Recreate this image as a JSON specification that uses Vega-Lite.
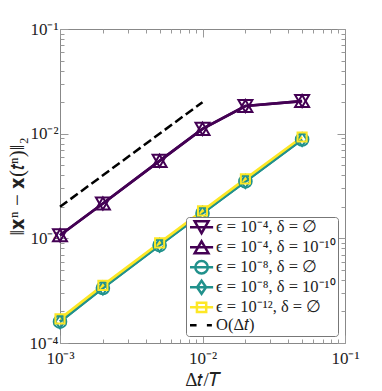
{
  "$schema": "https://vega.github.io/schema/vega-lite/v6.json",
  "width": 285,
  "height": 314,
  "autosize": {"type": "none"},
  "padding": {"left": 60, "top": 29, "right": 37, "bottom": 48},
  "background": "white",
  "config": {
    "view": {"stroke": "#888", "strokeWidth": 1},
    "axis": {"grid": false, "domain": false, "labelFlush": false, "labelOverlap": false, "tickColor": "#999", "tickWidth": 1, "labelFont": "Liberation Serif", "labelFontSize": 17, "labelColor": "#222", "titleFont": "Liberation Serif", "titleFontSize": 19, "titleFontWeight": "normal", "titleColor": "#222"},
    "legend": {"orient": "bottom-right", "offset": 7, "fillColor": "white", "strokeColor": "#777", "padding": 2, "cornerRadius": 3, "labelFont": "Liberation Serif", "labelFontSize": 16.5, "labelColor": "#222", "symbolStrokeWidth": 2.5, "symbolSize": 156.25, "rowPadding": -11, "labelOffset": 11.5}
  },
  "datasets": {
    "ref": [{"dt": 0.001, "err": 0.002}, {"dt": 0.01, "err": 0.02}],
    "main": [
      {"series": "ϵ = 10⁻⁴, δ = ∅", "dt": 0.001, "err": 0.00107},
      {"series": "ϵ = 10⁻⁴, δ = ∅", "dt": 0.002, "err": 0.00215},
      {"series": "ϵ = 10⁻⁴, δ = ∅", "dt": 0.005, "err": 0.0055},
      {"series": "ϵ = 10⁻⁴, δ = ∅", "dt": 0.01, "err": 0.0111},
      {"series": "ϵ = 10⁻⁴, δ = ∅", "dt": 0.02, "err": 0.0184},
      {"series": "ϵ = 10⁻⁴, δ = ∅", "dt": 0.05, "err": 0.0205},
      {"series": "ϵ = 10⁻⁴, δ = 10⁻¹⁰", "dt": 0.001, "err": 0.00107},
      {"series": "ϵ = 10⁻⁴, δ = 10⁻¹⁰", "dt": 0.002, "err": 0.00215},
      {"series": "ϵ = 10⁻⁴, δ = 10⁻¹⁰", "dt": 0.005, "err": 0.0055},
      {"series": "ϵ = 10⁻⁴, δ = 10⁻¹⁰", "dt": 0.01, "err": 0.0111},
      {"series": "ϵ = 10⁻⁴, δ = 10⁻¹⁰", "dt": 0.02, "err": 0.0184},
      {"series": "ϵ = 10⁻⁴, δ = 10⁻¹⁰", "dt": 0.05, "err": 0.0205},
      {"series": "ϵ = 10⁻⁸, δ = ∅", "dt": 0.001, "err": 0.00016},
      {"series": "ϵ = 10⁻⁸, δ = ∅", "dt": 0.002, "err": 0.000335},
      {"series": "ϵ = 10⁻⁸, δ = ∅", "dt": 0.005, "err": 0.00086},
      {"series": "ϵ = 10⁻⁸, δ = ∅", "dt": 0.01, "err": 0.00174},
      {"series": "ϵ = 10⁻⁸, δ = ∅", "dt": 0.02, "err": 0.0035},
      {"series": "ϵ = 10⁻⁸, δ = ∅", "dt": 0.05, "err": 0.0088},
      {"series": "ϵ = 10⁻⁸, δ = 10⁻¹⁰", "dt": 0.001, "err": 0.00016},
      {"series": "ϵ = 10⁻⁸, δ = 10⁻¹⁰", "dt": 0.002, "err": 0.000335},
      {"series": "ϵ = 10⁻⁸, δ = 10⁻¹⁰", "dt": 0.005, "err": 0.00086},
      {"series": "ϵ = 10⁻⁸, δ = 10⁻¹⁰", "dt": 0.01, "err": 0.00174},
      {"series": "ϵ = 10⁻⁸, δ = 10⁻¹⁰", "dt": 0.02, "err": 0.0035},
      {"series": "ϵ = 10⁻⁸, δ = 10⁻¹⁰", "dt": 0.05, "err": 0.0088},
      {"series": "ϵ = 10⁻¹², δ = ∅", "dt": 0.001, "err": 0.00017},
      {"series": "ϵ = 10⁻¹², δ = ∅", "dt": 0.002, "err": 0.000355},
      {"series": "ϵ = 10⁻¹², δ = ∅", "dt": 0.005, "err": 0.000905},
      {"series": "ϵ = 10⁻¹², δ = ∅", "dt": 0.01, "err": 0.00183},
      {"series": "ϵ = 10⁻¹², δ = ∅", "dt": 0.02, "err": 0.0037},
      {"series": "ϵ = 10⁻¹², δ = ∅", "dt": 0.05, "err": 0.0093}
    ]
  },
  "resolve": {"axis": {"x": "independent", "y": "independent"}, "scale": {"color": "independent", "shape": "independent"}},
  "layer": [
    {
      "data": {"name": "ref"},
      "mark": {"type": "line", "color": "black", "strokeWidth": 2.5, "strokeDash": [9, 4]},
      "encoding": {
        "x": {"field": "dt", "type": "quantitative", "scale": {"type": "log", "domain": [0.001, 0.1], "nice": false},
          "axis": {"orient": "bottom", "values": [0.001, 0.01, 0.1], "tickSize": -8, "labelPadding": 15, "labelExpr": "round(log(datum.value)/LN10) == -3 ? '10⁻³' : round(log(datum.value)/LN10) == -2 ? '10⁻²' : '10⁻¹'", "title": "Δ𝑡/𝑇", "titlePadding": 4}},
        "y": {"field": "err", "type": "quantitative", "scale": {"type": "log", "domain": [0.0001, 0.1], "nice": false},
          "axis": {"orient": "left", "values": [0.0001, 0.001, 0.01, 0.1], "tickSize": -8, "labelPadding": 10, "labelExpr": "round(log(datum.value)/LN10) == -4 ? '10⁻⁴' : round(log(datum.value)/LN10) == -3 ? '10⁻³' : round(log(datum.value)/LN10) == -2 ? '10⁻²' : '10⁻¹'", "title": "‖𝐱ⁿ − 𝐱(𝑡ⁿ)‖₂", "titleFontSize": 21, "titlePadding": 2}}
      }
    },
    {
      "data": {"name": "main"},
      "mark": {"type": "line", "strokeWidth": 2.7},
      "encoding": {
        "x": {"field": "dt", "type": "quantitative", "scale": {"type": "log", "domain": [0.001, 0.1], "nice": false},
          "axis": {"orient": "bottom", "values": [0.002, 0.003, 0.004, 0.005, 0.006, 0.007, 0.008, 0.009, 0.02, 0.03, 0.04, 0.05, 0.06, 0.07, 0.08, 0.09], "tickSize": -4, "labels": false, "title": null}},
        "y": {"field": "err", "type": "quantitative", "scale": {"type": "log", "domain": [0.0001, 0.1], "nice": false},
          "axis": {"orient": "left", "values": [0.0002, 0.0003, 0.0004, 0.0005, 0.0006, 0.0007, 0.0008, 0.0009, 0.002, 0.003, 0.004, 0.005, 0.006, 0.007, 0.008, 0.009, 0.02, 0.03, 0.04, 0.05, 0.06, 0.07, 0.08, 0.09], "tickSize": -4, "labels": false, "title": null}},
        "color": {"field": "series", "type": "nominal", "legend": null,
          "scale": {"domain": ["ϵ = 10⁻⁴, δ = ∅", "ϵ = 10⁻⁴, δ = 10⁻¹⁰", "ϵ = 10⁻⁸, δ = ∅", "ϵ = 10⁻⁸, δ = 10⁻¹⁰", "ϵ = 10⁻¹², δ = ∅"], "range": ["#440154", "#440154", "#21918c", "#21918c", "#fde725"]}}
      }
    },
    {
      "data": {"name": "main"},
      "mark": {"type": "point", "filled": false, "strokeWidth": 2, "size": 196, "opacity": 1},
      "encoding": {
        "x": {"field": "dt", "type": "quantitative", "scale": {"type": "log", "domain": [0.001, 0.1], "nice": false},
          "axis": {"orient": "top", "values": [0.001, 0.01, 0.1], "tickSize": -8, "labels": false, "title": null}},
        "y": {"field": "err", "type": "quantitative", "scale": {"type": "log", "domain": [0.0001, 0.1], "nice": false},
          "axis": {"orient": "right", "values": [0.0001, 0.001, 0.01, 0.1], "tickSize": -8, "labels": false, "title": null}},
        "color": {"field": "series", "type": "nominal", "legend": null,
          "scale": {"domain": ["ϵ = 10⁻⁴, δ = ∅", "ϵ = 10⁻⁴, δ = 10⁻¹⁰", "ϵ = 10⁻⁸, δ = ∅", "ϵ = 10⁻⁸, δ = 10⁻¹⁰", "ϵ = 10⁻¹², δ = ∅"], "range": ["#440154", "#440154", "#21918c", "#21918c", "#fde725"]}},
        "shape": {"field": "series", "type": "nominal", "legend": null,
          "scale": {"domain": ["ϵ = 10⁻⁴, δ = ∅", "ϵ = 10⁻⁴, δ = 10⁻¹⁰", "ϵ = 10⁻⁸, δ = ∅", "ϵ = 10⁻⁸, δ = 10⁻¹⁰", "ϵ = 10⁻¹², δ = ∅"],
            "range": ["triangle-down", "triangle-up", "M0.9,0A0.9,0.9 0 1,1 -0.9,0A0.9,0.9 0 1,1 0.9,0Z", "M0,-0.93L0.65,0L0,0.93L-0.65,0Z", "M-0.65,-0.65H0.65V0.65H-0.65Z"]}}
      }
    },
    {
      "data": {"name": "main"},
      "transform": [{"filter": {"field": "series", "equal": "none"}}],
      "mark": {"type": "point", "filled": false, "strokeWidth": 2.5, "size": 156.25, "opacity": 1},
      "encoding": {
        "x": {"field": "dt", "type": "quantitative", "scale": {"type": "log", "domain": [0.001, 0.1], "nice": false},
          "axis": {"orient": "top", "values": [0.002, 0.003, 0.004, 0.005, 0.006, 0.007, 0.008, 0.009, 0.02, 0.03, 0.04, 0.05, 0.06, 0.07, 0.08, 0.09], "tickSize": -4, "labels": false, "title": null}},
        "y": {"field": "err", "type": "quantitative", "scale": {"type": "log", "domain": [0.0001, 0.1], "nice": false},
          "axis": {"orient": "right", "values": [0.0002, 0.0003, 0.0004, 0.0005, 0.0006, 0.0007, 0.0008, 0.0009, 0.002, 0.003, 0.004, 0.005, 0.006, 0.007, 0.008, 0.009, 0.02, 0.03, 0.04, 0.05, 0.06, 0.07, 0.08, 0.09], "tickSize": -4, "labels": false, "title": null}},
        "color": {"field": "series", "type": "nominal", "legend": {"title": null},
          "scale": {"domain": ["ϵ = 10⁻⁴, δ = ∅", "ϵ = 10⁻⁴, δ = 10⁻¹⁰", "ϵ = 10⁻⁸, δ = ∅", "ϵ = 10⁻⁸, δ = 10⁻¹⁰", "ϵ = 10⁻¹², δ = ∅", "O(Δ𝑡)"], "range": ["#440154", "#440154", "#21918c", "#21918c", "#fde725", "black"]}},
        "shape": {"field": "series", "type": "nominal", "legend": {"title": null},
          "scale": {"domain": ["ϵ = 10⁻⁴, δ = ∅", "ϵ = 10⁻⁴, δ = 10⁻¹⁰", "ϵ = 10⁻⁸, δ = ∅", "ϵ = 10⁻⁸, δ = 10⁻¹⁰", "ϵ = 10⁻¹², δ = ∅", "O(Δ𝑡)"],
            "range": [
              "M-1,0H2.7M-0.25,-0.95L1.95,-0.95L0.85,0.95Z",
              "M-1,0H2.7M0.85,-0.95L1.95,0.95L-0.25,0.95Z",
              "M-1,0H2.7M1.85,0A1,1 0 1,1 -0.15,0A1,1 0 1,1 1.85,0Z",
              "M-1,0H2.7M0.85,-1.05L1.57,0L0.85,1.05L0.13,0Z",
              "M-1,0H2.7M0.11,-0.74H1.59V0.74H0.11Z",
              "M-1,0H0.05M1.7,0H2.5"
            ]}}
      }
    }
  ]
}
